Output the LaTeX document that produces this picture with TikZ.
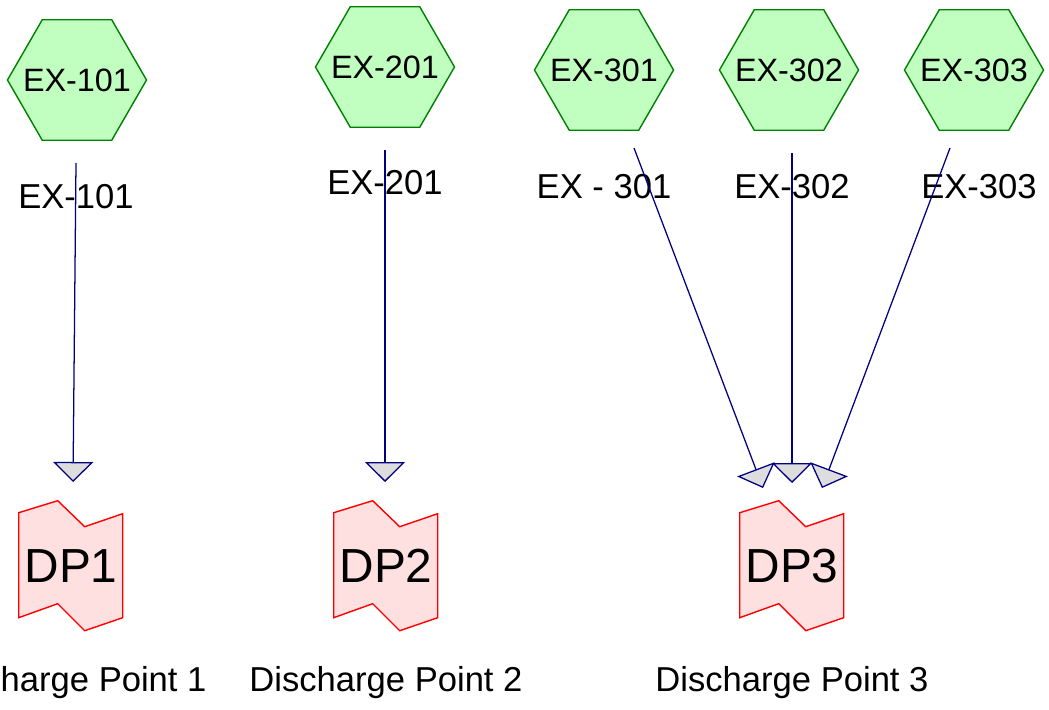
\documentclass[tikz,border=0pt]{standalone}
\usepackage{fontspec}
\setmainfont{Liberation Sans}
\usetikzlibrary{shapes.geometric, arrows.meta, backgrounds}

\definecolor{hexfill}{RGB}{192,255,192}
\definecolor{hexline}{RGB}{0,128,0}
\definecolor{dpfill}{RGB}{255,224,224}
\definecolor{flowline}{RGB}{0,0,128}
\definecolor{tipgray}{RGB}{221,221,221}

\newcommand{\hextext}[1]{\makebox[0pt]{#1}}

\tikzset{
    exhex/.style={draw=hexline, fill=hexfill, line width=1pt, regular polygon, regular polygon sides=6,
        minimum size=3.475cm, inner sep=0pt, font=\fontsize{23}{27}\selectfont},
    exlabel/.style={font=\fontsize{24.6}{28}\selectfont, inner sep=0pt},
    dpnode/.style={minimum width=2.6cm, minimum height=3.25cm, inner sep=0pt, font=\fontsize{34}{38}\selectfont},
    dpline/.style={draw=red, fill=dpfill, line width=1pt, line join=miter},
    flow/.style={draw=flowline, line width=0.9pt, -{Triangle[length=0.5cm, width=1.0cm, fill=tipgray]}}
}

\begin{document}
\begin{tikzpicture}[x=0.025cm, y=-0.025cm]
    \useasboundingbox (0,0) rectangle (1049,709);

    % Hexagons
    \node[exhex] (ex101) at (77,80) {\hextext{EX-101}};
    \node[exhex] (ex201) at (385,67) {\hextext{EX-201}};
    \node[exhex] (ex301) at (604,70) {\hextext{EX-301}};
    \node[exhex] (ex302) at (789,70) {\hextext{EX-302}};
    \node[exhex] (ex303) at (974,70) {\hextext{EX-303}};

    % Labels under hexagons
    \node[exlabel] (lab101) at (76,197) {EX-101};
    \node[exlabel] (lab201) at (385,183) {EX-201};
    \node[exlabel] (lab301) at (604,187) {EX - 301};
    \node[exlabel] (lab302) at (792,187) {EX-302};
    \node[exlabel] (lab303) at (979,187) {EX-303};

    % Discharge points
    \node[dpnode] (dp1) at (71,566) {DP1};
    \node[dpnode] (dp2) at (386,566) {DP2};
    \node[dpnode] (dp3) at (792,566) {DP3};
    \begin{pgfonlayer}{background}
        \foreach \d in {dp1,dp2,dp3}
            \draw[dpline] ([shift={(0,12)}]\d.north west) -- ++(39,-12) -- ++(27,26) -- ++(38,-13)
                -- ++(0,104) -- ++(-38,13) -- ++(-27,-27) -- ++(-39,14) -- cycle;
    \end{pgfonlayer}

    \node[exlabel] (name1) at (70,683) {Discharge Point 1};
    \node[exlabel] (name2) at (386,683) {Discharge Point 2};
    \node[exlabel] (name3) at (792,683) {Discharge Point 3};

    % Flow ends
    \coordinate (s101) at ([shift={(-1,83)}]ex101.center);
    \coordinate (s201) at ([shift={(0,83)}]ex201.center);
    \coordinate (s301) at ([shift={(30,78)}]ex301.center);
    \coordinate (s302) at ([shift={(3,83)}]ex302.center);
    \coordinate (s303) at ([shift={(-24,78)}]ex303.center);
    \coordinate (t1) at ([shift={(2,-84)}]dp1.center);
    \coordinate (t2) at ([shift={(-1,-84)}]dp2.center);
    \coordinate (t31) at ([shift={(-29,-78)}]dp3.center);
    \coordinate (t32) at ([shift={(0,-83)}]dp3.center);
    \coordinate (t33) at ([shift={(30,-78)}]dp3.center);

    % Arrows
    \draw[flow] (s101) -- (t1);
    \draw[flow] (s201) -- (t2);
    \draw[flow] (s301) -- (t31);
    \draw[flow] (s302) -- (t32);
    \draw[flow] (s303) -- (t33);
\end{tikzpicture}
\end{document}
